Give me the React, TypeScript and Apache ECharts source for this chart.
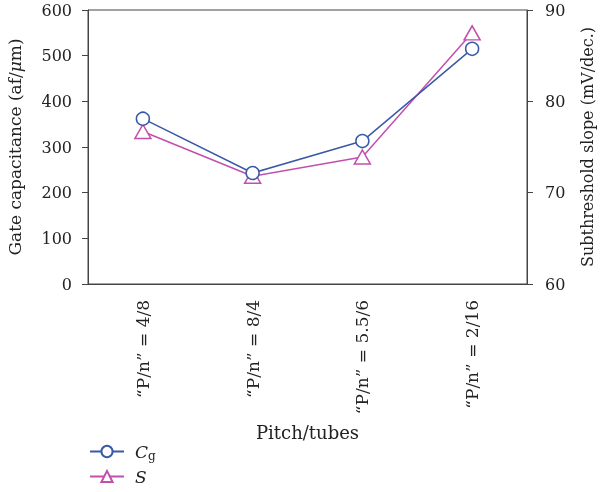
import React, { useEffect, useRef } from "react";
import * as echarts from "echarts";

const categories = ["\u201CP/n\u201D = 4/8", "\u201CP/n\u201D = 8/4", "\u201CP/n\u201D = 5.5/6", "\u201CP/n\u201D = 2/16"];
const cgValues = [362, 243, 313, 515];
const sValues = [76.7, 71.8, 73.9, 87.5];
const seriesNames = ["Cg", "S"];

const FONT = "DejaVu Serif";
const BLUE = "#3a5aa8";
const PINK = "#c24fae";
const TXT = "#222";

const legendText = {
  fontFamily: FONT,
  fontSize: 17,
  color: TXT,
  padding: [0, 0, 0, 6],
  rich: {
    i: { fontFamily: FONT, fontStyle: "italic", fontSize: 17, color: TXT },
    s: { fontFamily: FONT, fontSize: 12, color: TXT, verticalAlign: "bottom", padding: [8, 0, 0, 0] },
  },
};

export default function App() {
  const ref = useRef<HTMLDivElement>(null);
  useEffect(() => {
    if (!ref.current) return;
    const chart = echarts.init(ref.current, undefined, { renderer: "svg" });
    chart.setOption({
      animation: false,
      textStyle: { fontFamily: FONT },
      grid: {
        left: 88,
        right: 73,
        top: 10,
        bottom: 208,
        outerBoundsMode: "none",
        containLabel: false,
        show: true,
        borderColor: "#444",
        borderWidth: 1,
      },
      legend: [
        {
          left: 84,
          top: 438,
          itemWidth: 34,
          itemHeight: 14,
          itemGap: 8,
          data: [seriesNames[0]],
          formatter: () => "{i|C}{s|g}",
          textStyle: legendText,
        },
        {
          left: 84,
          top: 463,
          itemWidth: 34,
          itemHeight: 14,
          itemGap: 8,
          data: [seriesNames[1]],
          formatter: () => "{i|S}",
          textStyle: legendText,
        },
      ],
      xAxis: {
        type: "category",
        data: categories,
        boundaryGap: true,
        name: "Pitch/tubes",
        nameLocation: "middle",
        nameGap: 139,
        nameTextStyle: { fontFamily: FONT, fontSize: 18, color: TXT },
        axisLine: { lineStyle: { color: "#444" } },
        axisTick: { inside: true, length: 5, lineStyle: { color: "#444" } },
        axisLabel: { rotate: 90, margin: 16, fontFamily: FONT, fontSize: 17, color: TXT },
      },
      yAxis: [
        {
          type: "value",
          min: 0,
          max: 600,
          interval: 100,
          name: "Gate capacitance (af/{i|\u03BC}m)",
          nameLocation: "middle",
          nameGap: 65,
          nameTextStyle: {
            fontFamily: FONT,
            fontSize: 17,
            color: TXT,
            rich: { i: { fontFamily: FONT, fontStyle: "italic", fontSize: 17, color: TXT } },
          },
          splitLine: { show: false },
          axisLine: { show: true, lineStyle: { color: "#444" } },
          axisTick: { show: true, length: 6, lineStyle: { color: "#444" } },
          axisLabel: { margin: 16, fontFamily: FONT, fontSize: 16, color: TXT },
        },
        {
          type: "value",
          min: 60,
          max: 90,
          interval: 10,
          name: "Subthreshold slope (mV/dec.)",
          nameLocation: "middle",
          nameGap: 52,
          nameRotate: 90,
          nameTextStyle: { fontFamily: FONT, fontSize: 16, color: TXT },
          splitLine: { show: false },
          axisLine: { show: true, lineStyle: { color: "#444" } },
          axisTick: { show: true, length: 6, lineStyle: { color: "#444" } },
          axisLabel: { margin: 18, fontFamily: FONT, fontSize: 16, color: TXT },
        },
      ],
      series: [
        {
          name: "Cg",
          type: "line",
          yAxisIndex: 0,
          data: cgValues,
          symbol: "circle",
          symbolSize: 13,
          color: BLUE,
          lineStyle: { color: BLUE, width: 1.5 },
          itemStyle: { color: "#fff", borderColor: BLUE, borderWidth: 1.5 },
          z: 3,
        },
        {
          name: "S",
          type: "line",
          yAxisIndex: 1,
          data: sValues,
          symbol: "triangle",
          symbolSize: [16, 14],
          color: PINK,
          lineStyle: { color: PINK, width: 1.5 },
          itemStyle: { color: "#fff", borderColor: PINK, borderWidth: 1.5 },
          z: 2,
        },
      ],
    });
    return () => chart.dispose();
  }, []);
  return <div ref={ref} style={{ position: "fixed", left: 0, top: 0, width: 600, height: 492 }} />;
}
